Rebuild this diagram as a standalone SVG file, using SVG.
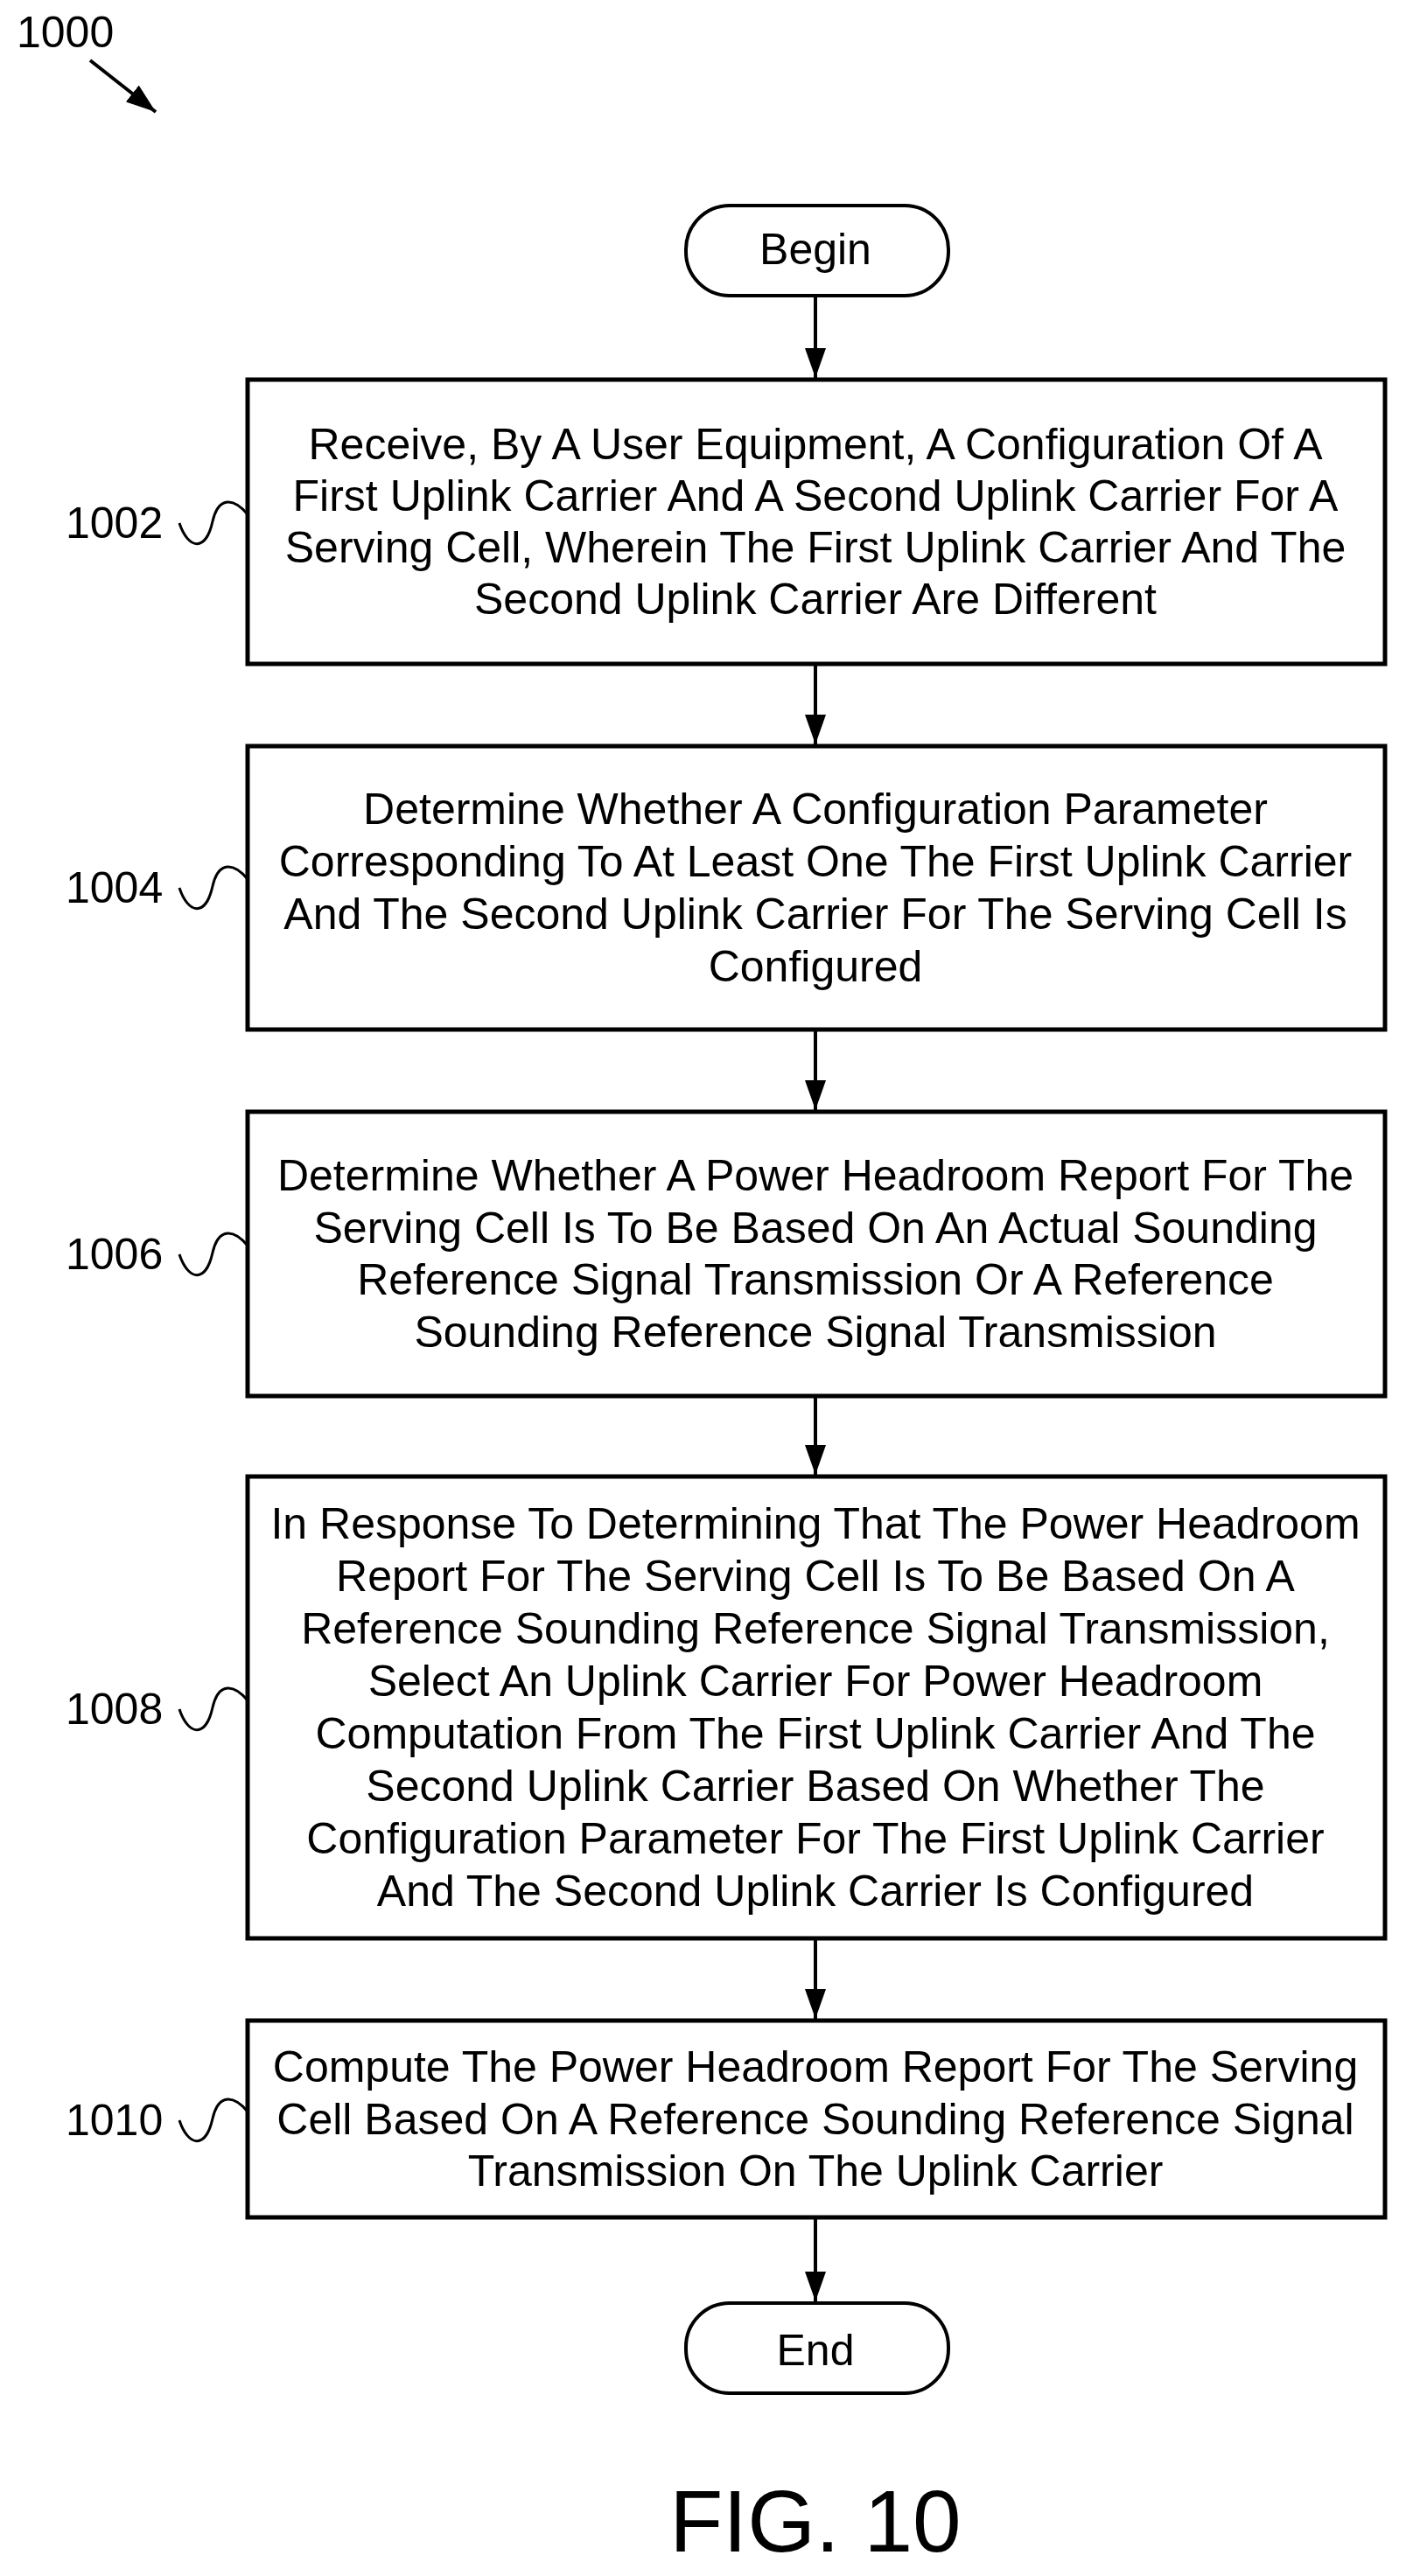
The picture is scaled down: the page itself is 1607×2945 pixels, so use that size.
<svg xmlns="http://www.w3.org/2000/svg" width="1607" height="2945" viewBox="0 0 1607 2945">
<style>
text{font-family:"Liberation Sans",Arial,sans-serif;font-size:50px;fill:#000}
.c{text-anchor:middle}
.box{fill:#fff;stroke:#000;stroke-width:5}
.term{fill:#fff;stroke:#000;stroke-width:4}
.ln{stroke:#000;stroke-width:4;fill:none}
.sq{stroke:#000;stroke-width:3;fill:none}
</style>
<defs>
<marker id="a" markerWidth="34" markerHeight="24" refX="34" refY="12" orient="auto" markerUnits="userSpaceOnUse">
<path d="M0,0 L34,12 L0,24 Z" fill="#000"/>
</marker>
</defs>
<text x="19" y="54">1000</text>
<g id="connectors">
<line class="ln" x1="103" y1="69" x2="178" y2="128" marker-end="url(#a)"/>
<line class="ln" x1="932" y1="338" x2="932" y2="432" marker-end="url(#a)"/>
<line class="ln" x1="932" y1="759" x2="932" y2="851" marker-end="url(#a)"/>
<line class="ln" x1="932" y1="1177" x2="932" y2="1269" marker-end="url(#a)"/>
<line class="ln" x1="932" y1="1596" x2="932" y2="1686" marker-end="url(#a)"/>
<line class="ln" x1="932" y1="2216" x2="932" y2="2308" marker-end="url(#a)"/>
<line class="ln" x1="932" y1="2535" x2="932" y2="2631" marker-end="url(#a)"/>
</g>
<g id="begin"><rect class="term" x="784" y="235" width="300" height="103" rx="50"/><text class="c" x="932" y="302">Begin</text></g>
<g id="n1002">
<rect class="box" x="283" y="434" width="1300" height="325"/>
<text class="c" x="932" y="525">Receive, By A User Equipment, A Configuration Of A</text>
<text class="c" x="932" y="584">First Uplink Carrier And A Second Uplink Carrier For A</text>
<text class="c" x="932" y="643">Serving Cell, Wherein The First Uplink Carrier And The</text>
<text class="c" x="932" y="702">Second Uplink Carrier Are Different</text>
<text x="75" y="615">1002</text>
<path class="sq" d="M205,598 C215,628 235,632 243,596 C250,566 268,570 283,588"/>
</g>
<g id="n1004">
<rect class="box" x="283" y="853" width="1300" height="324"/>
<text class="c" x="932" y="942">Determine Whether A Configuration Parameter</text>
<text class="c" x="932" y="1002">Corresponding To At Least One The First Uplink Carrier</text>
<text class="c" x="932" y="1062">And The Second Uplink Carrier For The Serving Cell Is</text>
<text class="c" x="932" y="1122">Configured</text>
<text x="75" y="1032">1004</text>
<path class="sq" d="M205,1015 C215,1045 235,1049 243,1013 C250,983 268,987 283,1005"/>
</g>
<g id="n1006">
<rect class="box" x="283" y="1271" width="1300" height="325"/>
<text class="c" x="932" y="1361">Determine Whether A Power Headroom Report For The</text>
<text class="c" x="932" y="1421">Serving Cell Is To Be Based On An Actual Sounding</text>
<text class="c" x="932" y="1480">Reference Signal Transmission Or A Reference</text>
<text class="c" x="932" y="1540">Sounding Reference Signal Transmission</text>
<text x="75" y="1451">1006</text>
<path class="sq" d="M205,1434 C215,1464 235,1468 243,1432 C250,1402 268,1406 283,1424"/>
</g>
<g id="n1008">
<rect class="box" x="283" y="1688" width="1300" height="528"/>
<text class="c" x="932" y="1759">In Response To Determining That The Power Headroom</text>
<text class="c" x="932" y="1819">Report For The Serving Cell Is To Be Based On A</text>
<text class="c" x="932" y="1879">Reference Sounding Reference Signal Transmission,</text>
<text class="c" x="932" y="1939">Select An Uplink Carrier For Power Headroom</text>
<text class="c" x="932" y="1999">Computation From The First Uplink Carrier And The</text>
<text class="c" x="932" y="2059">Second Uplink Carrier Based On Whether The</text>
<text class="c" x="932" y="2119">Configuration Parameter For The First Uplink Carrier</text>
<text class="c" x="932" y="2179">And The Second Uplink Carrier Is Configured</text>
<text x="75" y="1971">1008</text>
<path class="sq" d="M205,1954 C215,1984 235,1988 243,1952 C250,1922 268,1926 283,1944"/>
</g>
<g id="n1010">
<rect class="box" x="283" y="2310" width="1300" height="225"/>
<text class="c" x="932" y="2380">Compute The Power Headroom Report For The Serving</text>
<text class="c" x="932" y="2440">Cell Based On A Reference Sounding Reference Signal</text>
<text class="c" x="932" y="2499">Transmission On The Uplink Carrier</text>
<text x="75" y="2441">1010</text>
<path class="sq" d="M205,2424 C215,2454 235,2458 243,2422 C250,2392 268,2396 283,2414"/>
</g>
<g id="end"><rect class="term" x="784" y="2633" width="300" height="103" rx="50"/><text class="c" x="932" y="2704">End</text></g>
<text class="c" x="932" y="2917" style="font-size:100px">FIG. 10</text>
</svg>
